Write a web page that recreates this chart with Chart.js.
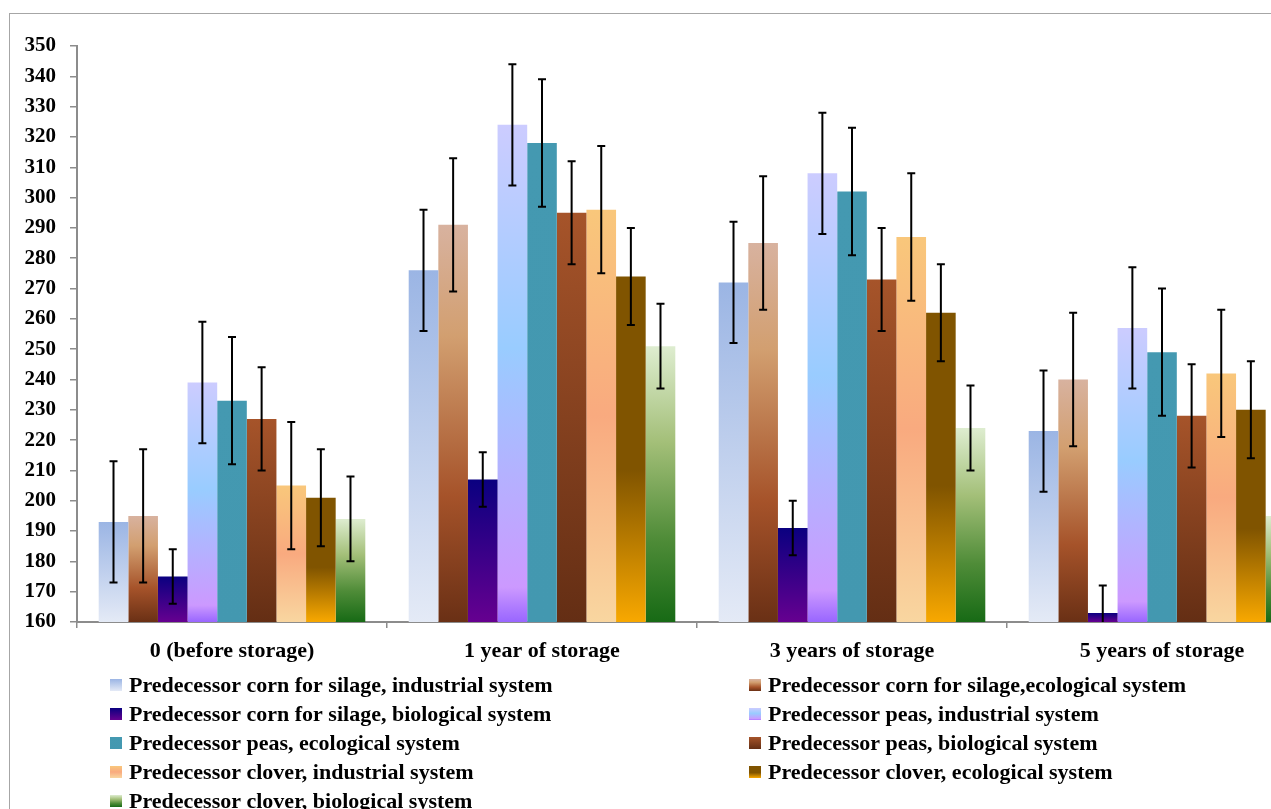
<!DOCTYPE html>
<html>
<head>
<meta charset="utf-8">
<script src="https://cdn.jsdelivr.net/npm/chart.js@4.4.0/dist/chart.umd.min.js"></script>
<style>
  html, body { margin: 0; padding: 0; background: #fff; overflow: hidden; width: 1271px; height: 809px; }
  #marco { position: absolute; left: 9px; top: 13px; width: 1400px; height: 900px; border: 1px solid #a6a6a6; }
  #lienzo { position: absolute; left: 0; top: 0; }
</style>
</head>
<body>
<div id="marco"></div>
<canvas id="lienzo" width="1340" height="809"></canvas>
<script>
// Datos
const categorias = ['0 (before storage)', '1 year of storage', '3 years of storage', '5 years of storage'];
const nombresSeries = [
    'Predecessor corn for silage, industrial system',
    'Predecessor corn for silage,ecological system',
    'Predecessor corn for silage, biological system',
    'Predecessor peas, industrial system',
    'Predecessor peas, ecological system',
    'Predecessor peas, biological system',
    'Predecessor clover, industrial system',
    'Predecessor clover, ecological system',
    'Predecessor clover, biological system'
];
const maizIndustrial = [193, 276, 272, 223];
const maizEcologico = [195, 291, 285, 240];
const maizBiologico = [175, 207, 191, 163];
const guisanteIndustrial = [239, 324, 308, 257];
const guisanteEcologico = [233, 318, 302, 249];
const guisanteBiologico = [227, 295, 273, 228];
const treborIndustrial = [205, 296, 287, 242];
const treborEcologico = [201, 274, 262, 230];
const treborBiologico = [194, 251, 224, 195];
// margen de error (+/-) de cada serie
const margenesError = [20, 22, 9, 20, 21, 17, 21, 16, 14];
const ticksY = [160, 350, 10]; // min, max, paso

// Degradados verticales de cada serie (de arriba a abajo)
const degradados = [
    [[0, '#9bb5e4'], [1, '#e4eaf6']],
    [[0, '#d8b29f'], [0.28, '#d29f70'], [0.68, '#a6532a'], [1, '#6a3015']],
    [[0, '#0a0080'], [1, '#660090']],
    [[0, '#ccccff'], [0.45, '#99ccff'], [0.93, '#cc99ff'], [1, '#9966ff']],
    [[0, '#4499b1'], [1, '#4398b0']],
    [[0, '#a6542a'], [1, '#642e14']],
    [[0, '#f9c77b'], [0.5, '#f9aa7f'], [1, '#f9d6a0']],
    [[0, '#805400'], [0.56, '#805400'], [1, '#f8a800']],
    [[0, '#deedd0'], [0.35, '#a3bf78'], [0.7, '#4f8c38'], [1, '#176a15']]
];

const fuente = "'Liberation Serif', 'Times New Roman', serif";

function rellenoBarra(paradas) {
    return function (context) {
        const chart = context.chart;
        const escalaY = chart.scales.y;
        if (!escalaY || !context.parsed) {
            return paradas[0][1];
        }
        const arriba = escalaY.getPixelForValue(context.parsed.y);
        const base = escalaY.getPixelForValue(escalaY.min);
        if (!isFinite(arriba) || !isFinite(base) || arriba === base) {
            return paradas[0][1];
        }
        const g = chart.ctx.createLinearGradient(0, arriba, 0, base);
        paradas.forEach(p => g.addColorStop(p[0], p[1]));
        return g;
    };
}

const valores = [maizIndustrial, maizEcologico, maizBiologico, guisanteIndustrial, guisanteEcologico,
    guisanteBiologico, treborIndustrial, treborEcologico, treborBiologico];

const datasets = valores.map((serie, i) => ({
    label: nombresSeries[i],
    data: serie,
    backgroundColor: rellenoBarra(degradados[i]),
    borderWidth: 0,
    categoryPercentage: 0.86,
    barPercentage: 1.0
}));

// Barras de error
const barrasError = {
    id: 'barrasError',
    afterDatasetsDraw(chart) {
        const ctx = chart.ctx;
        const escalaY = chart.scales.y;
        const area = chart.chartArea;
        ctx.save();
        ctx.beginPath();
        ctx.rect(area.left, area.top - 30, area.right - area.left, area.bottom - area.top + 30);
        ctx.clip();
        ctx.strokeStyle = '#000';
        ctx.lineWidth = 2;
        chart.data.datasets.forEach((ds, i) => {
            const meta = chart.getDatasetMeta(i);
            meta.data.forEach((barra, j) => {
                const v = ds.data[j];
                const e = margenesError[i];
                const x = barra.x;
                const yArriba = escalaY.getPixelForValue(v + e);
                const yAbajo = escalaY.getPixelForValue(v - e);
                ctx.beginPath();
                ctx.moveTo(x, yArriba);
                ctx.lineTo(x, yAbajo);
                ctx.moveTo(x - 4, yArriba);
                ctx.lineTo(x + 4, yArriba);
                ctx.moveTo(x - 4, yAbajo);
                ctx.lineTo(x + 4, yAbajo);
                ctx.stroke();
            });
        });
        ctx.restore();
    }
};

// Leyenda en dos columnas
const leyenda = {
    id: 'leyenda',
    afterDraw(chart) {
        const ctx = chart.ctx;
        ctx.save();
        ctx.font = 'bold 22px ' + fuente;
        ctx.textBaseline = 'middle';
        ctx.fillStyle = '#000';
        nombresSeries.forEach((nombre, i) => {
            const col = i % 2;
            const fila = Math.floor(i / 2);
            const xCuadro = col === 0 ? 110 : 749;
            const yCentro = 685 + fila * 29;
            const g = ctx.createLinearGradient(0, yCentro - 6, 0, yCentro + 6);
            degradados[i].forEach(p => g.addColorStop(p[0], p[1]));
            ctx.fillStyle = g;
            ctx.fillRect(xCuadro, yCentro - 6, 12, 12);
            ctx.fillStyle = '#000';
            ctx.fillText(nombre, xCuadro + 19, yCentro + 1);
        });
        ctx.restore();
    }
};

const ctx = document.getElementById('lienzo').getContext('2d');

new Chart(ctx, {
    type: 'bar',
    data: {
        labels: categorias,
        datasets: datasets
    },
    options: {
        responsive: false,
        animation: false,
        devicePixelRatio: 1,
        layout: {
            padding: { left: 0, top: 46, right: 23, bottom: 0 }
        },
        plugins: {
            legend: { display: false },
            tooltip: { enabled: false }
        },
        scales: {
            x: {
                grid: {
                    display: true,
                    drawOnChartArea: false,
                    offset: true,
                    tickLength: 6,
                    color: '#8c8c8c',
                    lineWidth: 1.5
                },
                border: { color: '#8c8c8c', width: 2 },
                ticks: {
                    color: '#000',
                    font: { family: fuente, size: 22, weight: 'bold' },
                    padding: 10,
                    maxRotation: 0
                },
                afterFit(escala) {
                    escala.height = 187;
                }
            },
            y: {
                min: ticksY[0],
                max: ticksY[1],
                grid: {
                    drawOnChartArea: false,
                    tickLength: 7,
                    color: '#8c8c8c',
                    lineWidth: 1.5
                },
                border: { color: '#8c8c8c', width: 2 },
                ticks: {
                    stepSize: ticksY[2],
                    color: '#000',
                    font: { family: fuente, size: 21, weight: 'bold' },
                    padding: 14
                },
                afterFit(escala) {
                    escala.width = 77;
                }
            }
        }
    },
    plugins: [barrasError, leyenda]
});
</script>
</body>
</html>
